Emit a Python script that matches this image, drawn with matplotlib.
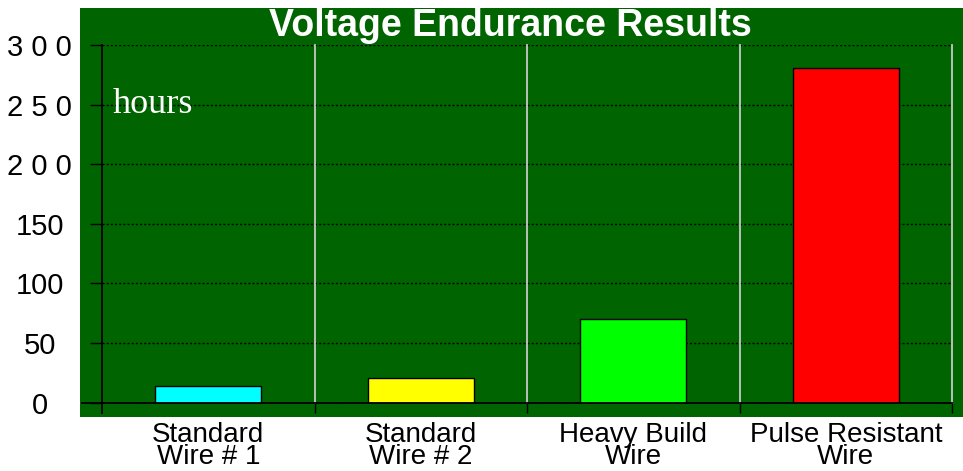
import matplotlib.pyplot as plt
from matplotlib.patches import Rectangle

categories = ['Standard\nWire # 1', 'Standard\nWire # 2', 'Heavy Build\nWire', 'Pulse Resistant\nWire']
hours = [14, 21, 70, 281]
bar_colors = ['#00ffff', '#ffff00', '#00ff00', '#ff0000']
yticks = [0, 50, 100, 150, 200, 250, 300]
ytick_labels = ['0', '50', '100', '150', '2 0 0', '2 5 0', '3 0 0']

plt.rcParams['font.family'] = ['Liberation Sans', 'DejaVu Sans']
bg = '#006400'

fig = plt.figure(figsize=(9.63, 4.71), dpi=100)
fig.patch.set_facecolor('white')
fig.patches.append(Rectangle((80/963, 1-416.7/471), 1-80/963, (416.7-8)/471,
                             transform=fig.transFigure, facecolor=bg, edgecolor='none', zorder=-5))

ax = fig.add_axes([102/963, 1-402.7/471, 850/963, 357.7/471])
ax.set_facecolor(bg)
x = list(range(len(categories)))
ax.bar(x, hours, width=0.5, color=bar_colors, edgecolor='black', linewidth=1, zorder=3)

ax.set_xlim(-0.5, 3.5)
ax.set_ylim(0, 300)
for s in ax.spines.values():
    s.set_visible(False)

# dotted grid
ax.set_yticks(yticks)
ax.set_yticklabels(ytick_labels, fontsize=21, ha='center')
ax.yaxis.grid(True, color='black', linestyle=(0, (1.5, 1.5)), linewidth=1)
ax.tick_params(axis='y', length=8.5, width=1, color='black', pad=36.5)

# category separators
for sep in [0.5, 1.5, 2.5, 3.5]:
    ax.axvline(sep, color='#c8c8c8', linewidth=1.3, zorder=2, clip_on=False)
ax.set_xticks([0.5, 1.5, 2.5, 3.5], minor=True)
ax.tick_params(axis='x', which='minor', length=7, width=1, color='black')
ax.set_xticks(x)
ax.set_xticklabels(categories, fontsize=20, linespacing=0.8)
ax.tick_params(axis='x', which='major', length=0, pad=14)

ax.axhline(0, xmin=-0.0235, xmax=1, color='black', linewidth=1.3, clip_on=False, zorder=4)
ax.axvline(-0.5, ymin=-0.029, ymax=1, color='black', linewidth=1.3, clip_on=False, zorder=4)
ax.set_axisbelow(True)

fig.text(0.53, 1-26/471, 'Voltage Endurance Results', color='white', fontsize=27,
         fontweight='bold', ha='center', va='center')
fig.text(113/963, 1-113/471, 'hours', color='white', fontsize=26,
         family=['Liberation Serif'], ha='left', va='baseline')

fig.savefig('out.png', dpi=100)
